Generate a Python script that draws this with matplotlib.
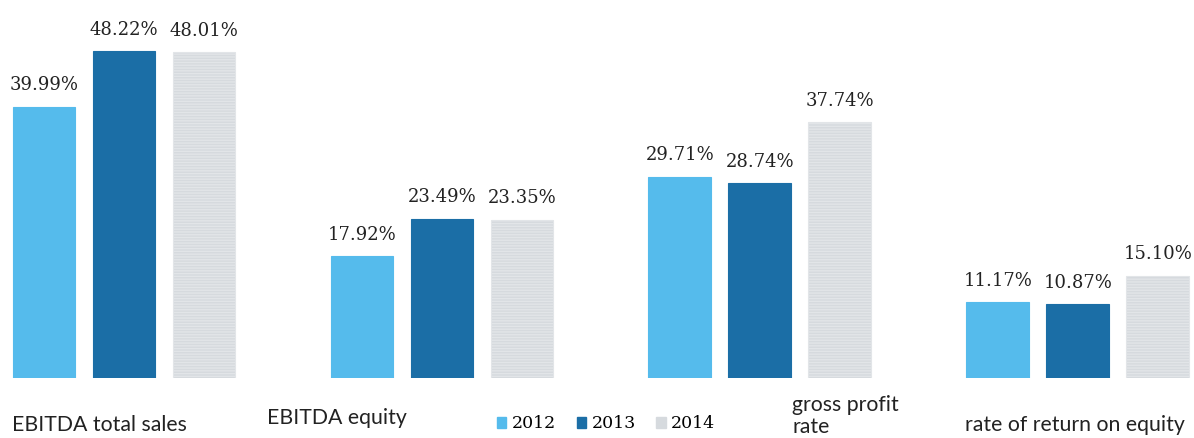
import matplotlib.pyplot as plt
import numpy as np

categories = ["EBITDA total sales", "EBITDA equity", "gross profit\nrate", "rate of return on equity"]
years = ["2012", "2013", "2014"]
v2012 = [39.99, 17.92, 29.71, 11.17]
v2013 = [48.22, 23.49, 28.74, 10.87]
v2014 = [48.01, 23.35, 37.74, 15.10]

colors = ["#55bbec", "#1b6ea6", "#d6dade"]

fig = plt.figure(figsize=(11.94, 4.38), dpi=100)
ax = fig.add_axes([0, 0.137, 1, 0.863])

x = np.arange(len(categories))
pitch = 0.2516
width = 0.198
series = [v2012, v2013, v2014]
for k, vals in enumerate(series):
    bars = ax.bar(x + (k - 1) * pitch, vals, width, color=colors[k], label=years[k],
                  edgecolor=colors[k], linewidth=0.8)
    if k == 2:
        for b in bars:
            b.set_hatch("------")
            b.set_edgecolor("#e2e5e8")
    for b, v in zip(bars, vals):
        ax.annotate(f"{v:.2f}%", (b.get_x() + b.get_width() / 2, v),
                    xytext=(0, 9), textcoords="offset points",
                    ha="center", va="bottom", fontsize=13,
                    family="DejaVu Serif", color="#222222")

ax.set_xlim(-0.39, 3.365)
ax.set_ylim(0, 55.75)
ax.axis("off")

# category captions sit in loose positions under each group
label_pos = [(12, 425), (267, 418), (792, 416), (965, 425)]
for text, (px, py) in zip(categories, label_pos):
    fig.text(px / 1194, 1 - py / 438, text, ha="left", va="center",
             fontsize=15.3, family="Lato", color="#222222", linespacing=1.15)

handles = [plt.Rectangle((0, 0), 1, 1, color=c) for c in colors]
fig.legend(handles, years, loc="center", bbox_to_anchor=(606 / 1194, 1 - 424 / 438),
           ncol=3, frameon=False, handlelength=0.55, handleheight=0.55,
           handletextpad=0.3, columnspacing=1.2,
           prop={"family": "DejaVu Serif", "size": 12.5})

fig.savefig("out.png", dpi=100)
